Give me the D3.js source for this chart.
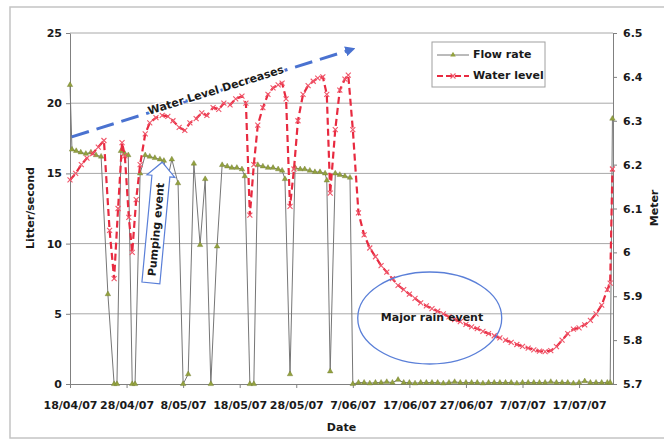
<!DOCTYPE html>
<html>
<head>
<meta charset="utf-8">
<script src="https://cdn.jsdelivr.net/npm/d3@7"></script>
<style>
  body { margin: 0; background: #fff; }
  text { font-family: "DejaVu Sans", sans-serif; font-weight: bold; font-size: 11px; fill: #1a1a1a; }
</style>
</head>
<body>
<svg id="chart" width="664" height="446"></svg>
<script>
// days counted from 18/04/07
const flowDays = [0, 0.35, 1.1, 1.9, 2.8, 3.7, 4.6, 5.5, 6.7, 7.8, 8.3, 9.0, 9.7, 10.3, 11.0, 11.5,
  12.4, 13.3, 14.1, 15.0, 15.9, 16.6, 17.2, 18.0, 19.1, 20.0, 20.9, 21.9, 23.0, 23.9, 24.9, 26.0,
  26.9, 27.8, 28.6, 29.5, 30.4, 30.9, 31.8, 32.5, 33.2, 34.1, 35.0, 35.9, 36.8, 37.5, 38.0, 38.9,
  39.8, 40.7, 41.5, 42.4, 43.3, 44.2, 45.1, 45.4, 46.0, 46.9, 47.7, 48.6, 49.5, 50.0,
  51, 52, 53, 54, 55, 56, 57, 58, 59, 60, 61, 62, 63, 64, 65, 66, 67, 68, 69, 70,
  71, 72, 73, 74, 75, 76, 77, 78, 79, 80, 81, 82, 83, 84, 85, 86, 87, 88, 89, 90,
  91, 92, 93, 94, 95, 95.5, 95.9];
const flowRate = [21.3, 16.7, 16.6, 16.5, 16.4, 16.5, 16.3, 16.2, 6.4, 0, 0, 16.6, 16.4, 16.3, 0, 0,
  15.0, 16.3, 16.2, 16.1, 16.0, 15.9, 14.5, 16.0, 14.3, 0, 0.7, 15.7, 9.9, 14.6, 0, 9.8,
  15.6, 15.5, 15.4, 15.4, 15.3, 14.8, 0, 0, 15.6, 15.5, 15.4, 15.4, 15.3, 15.2, 14.6, 0.7,
  15.4, 15.3, 15.3, 15.2, 15.1, 15.1, 15.0, 14.5, 0.9, 15.0, 14.9, 14.8, 14.7, 0,
  0.1, 0.1, 0.05, 0.1, 0.1, 0.15, 0.1, 0.3, 0.1, 0.1, 0.05, 0.1, 0.1, 0.1, 0.1, 0.05, 0.1, 0.15, 0.1, 0.1,
  0.1, 0.1, 0.05, 0.1, 0.1, 0.1, 0.1, 0.1, 0.05, 0.1, 0.1, 0.1, 0.1, 0.1, 0.15, 0.1, 0.1, 0.1, 0.05, 0.1,
  0.2, 0.1, 0.1, 0.1, 0.1, 0.1, 18.9];

const levelDays = [0, 1, 2, 3, 4, 5, 6, 7, 7.8, 8.5, 9.2, 9.7, 10.4, 11.0, 11.7, 12.4, 13.3, 14.1,
  15.2, 16.3, 17.3, 18.2, 19.3, 20.3, 21.2, 22.3, 23.3, 24.2, 25.3, 26.3, 27.2, 28.3, 29.3, 30.4,
  31.1, 31.8, 32.5, 33.2, 34.1, 35.0, 35.9, 36.8, 37.5, 38.2, 38.9, 39.6, 40.3, 41.2, 42.1, 43.0,
  43.8, 44.7, 45.4, 46.0, 46.9, 47.7, 48.6, 49.2, 50.0,
  51, 52, 53, 54, 55, 56, 57, 58, 59, 60, 61, 62, 63, 64, 65, 66, 67, 68, 69, 70,
  71, 72, 73, 74, 75, 76, 77, 78, 79, 80, 81, 82, 83, 84, 85, 86, 87, 88, 89, 90,
  91, 92, 93, 94, 95, 95.5, 95.9];
const waterLevel = [6.165, 6.18, 6.2, 6.215, 6.225, 6.24, 6.255, 6.05, 5.94, 6.1, 6.25, 6.22, 6.08, 6.0,
  6.12, 6.2, 6.27, 6.295, 6.307, 6.312, 6.31, 6.3, 6.285, 6.278, 6.295, 6.305, 6.318, 6.312, 6.33,
  6.326, 6.34, 6.336, 6.35, 6.356, 6.34, 6.085, 6.2, 6.29, 6.33, 6.36, 6.375, 6.382, 6.386, 6.35,
  6.105, 6.19, 6.3, 6.36, 6.38, 6.39, 6.397, 6.4, 6.36, 6.135, 6.28, 6.37, 6.395, 6.404, 6.28,
  6.09, 6.04, 6.01, 5.99, 5.97, 5.955, 5.94, 5.925, 5.915, 5.905, 5.895, 5.885, 5.878, 5.872, 5.866,
  5.86, 5.853, 5.847, 5.842, 5.836, 5.83, 5.826, 5.82, 5.815, 5.81, 5.805, 5.8, 5.795, 5.79, 5.786,
  5.782, 5.778, 5.775, 5.774, 5.776, 5.785, 5.8, 5.815, 5.825, 5.828, 5.835, 5.845, 5.86, 5.88,
  5.915, 5.93, 6.19];

const dateTicks = [0, 10, 20, 30, 40, 50, 60, 70, 80, 90];
const flowTicks = [0, 5, 10, 15, 20, 25];
const levelTicks = [5.7, 5.8, 5.9, 6.0, 6.1, 6.2, 6.3, 6.4, 6.5];

const start = Date.UTC(2007, 3, 18);
const toDate = d => new Date(start + d * 864e5);

const svg = d3.select("#chart");
svg.append("rect").attr("width", 664).attr("height", 446).attr("fill", "#fff");
// outer chart frame
svg.append("rect").attr("x", 10).attr("y", 7).attr("width", 700).attr("height", 431)
   .attr("fill", "none").attr("stroke", "#c4c4c4").attr("stroke-width", 1.5);

const pLeft = 70, pRight = 613, pTop = 33, pBottom = 384;
const x = d3.scaleUtc().domain([toDate(0), toDate(96)]).range([pLeft, pRight]);
const yL = d3.scaleLinear().domain([0, 25]).range([pBottom, pTop]);
const yR = d3.scaleLinear().domain([5.7, 6.5]).range([pBottom, pTop]);

// gridlines
svg.append("g").selectAll("line").data(flowTicks.slice(1)).join("line")
   .attr("x1", pLeft).attr("x2", pRight).attr("y1", d => yL(d)).attr("y2", d => yL(d))
   .attr("stroke", "#a8a8a8").attr("stroke-width", 1);

function styleAxis(g){
    g.selectAll("path,line").attr("stroke", "#808080");
    g.selectAll("text").attr("fill", "#1a1a1a");
}

svg.append("g").attr("transform", `translate(0,${pBottom})`)
   .call(d3.axisBottom(x).tickValues(dateTicks.map(toDate))
         .tickFormat(d3.utcFormat("%-d/%m/%y")).tickSize(4).tickSizeOuter(0).tickPadding(13))
   .call(styleAxis);
svg.append("g").attr("transform", `translate(${pLeft},0)`)
   .call(d3.axisLeft(yL).tickValues(flowTicks).tickSize(4).tickSizeOuter(0).tickPadding(4))
   .call(styleAxis);
svg.append("g").attr("transform", `translate(${pRight},0)`)
   .call(d3.axisRight(yR).tickValues(levelTicks).tickFormat(d => String(+d.toFixed(1)))
         .tickSize(4).tickSizeOuter(0).tickPadding(6))
   .call(styleAxis);

// axis titles
svg.append("text").attr("transform", "translate(31,208) rotate(-90)")
   .attr("text-anchor", "middle").attr("dominant-baseline", "middle").text("Litter/second");
svg.append("text").attr("transform", "translate(655,208) rotate(-90)")
   .attr("text-anchor", "middle").attr("dominant-baseline", "middle").text("Meter");
svg.append("text").attr("x", (pLeft + pRight) / 2).attr("y", 431)
   .attr("text-anchor", "middle").text("Date");

// flow rate series
const flow = flowDays.map((d, i) => [toDate(d), flowRate[i]]);
svg.append("path").datum(flow)
   .attr("d", d3.line().x(d => x(d[0])).y(d => yL(d[1])))
   .attr("fill", "none").attr("stroke", "#767676").attr("stroke-width", 1);
const tri = d3.symbol(d3.symbolTriangle, 13)();
svg.append("g").selectAll("path").data(flow).join("path")
   .attr("transform", d => `translate(${x(d[0])},${yL(d[1])})`)
   .attr("d", tri).attr("fill", "#93a23e").attr("stroke", "#6f7a30").attr("stroke-width", 0.4);

// water level series
const level = levelDays.map((d, i) => [toDate(d), waterLevel[i]]);
svg.append("path").datum(level)
   .attr("d", d3.line().x(d => x(d[0])).y(d => yR(d[1])))
   .attr("fill", "none").attr("stroke", "#e82a40").attr("stroke-width", 2.2)
   .attr("stroke-dasharray", "7,4");
const cross = "M-2.5,-2.5L2.5,2.5M-2.5,2.5L2.5,-2.5";
svg.append("g").selectAll("path").data(level).join("path")
   .attr("transform", d => `translate(${x(d[0])},${yR(d[1])})`)
   .attr("d", cross).attr("fill", "none").attr("stroke", "#f0566a").attr("stroke-width", 1.1);

// legend
const lg = svg.append("g");
lg.append("rect").attr("x", 432).attr("y", 42).attr("width", 113).attr("height", 45)
  .attr("fill", "#fff").attr("stroke", "#a0a0a0");
lg.append("line").attr("x1", 437).attr("x2", 469).attr("y1", 55).attr("y2", 55)
  .attr("stroke", "#767676");
lg.append("path").attr("transform", "translate(453,55)").attr("d", tri).attr("fill", "#93a23e");
lg.append("text").attr("x", 473).attr("y", 55).attr("dominant-baseline", "middle").text("Flow rate");
lg.append("line").attr("x1", 437).attr("x2", 469).attr("y1", 76).attr("y2", 76)
  .attr("stroke", "#e82a40").attr("stroke-width", 2).attr("stroke-dasharray", "6,3");
lg.append("path").attr("transform", "translate(453,76)").attr("d", cross)
  .attr("fill", "none").attr("stroke", "#f0566a").attr("stroke-width", 1.1);
lg.append("text").attr("x", 473).attr("y", 76).attr("dominant-baseline", "middle").text("Water level");

// annotation: water level trend arrow
const defs = svg.append("defs");
defs.append("marker").attr("id", "head").attr("viewBox", "0 0 10 10")
    .attr("refX", 5).attr("refY", 5).attr("markerWidth", 3.4).attr("markerHeight", 3.4)
    .attr("orient", "auto")
    .append("path").attr("d", "M0,0L10,5L0,10z").attr("fill", "#4a72d0");
const a0 = [x(toDate(0.3)), yL(17.6)], a1 = [x(toDate(49.6)), yL(23.8)];
svg.append("line").attr("x1", a0[0]).attr("y1", a0[1]).attr("x2", a1[0]).attr("y2", a1[1])
   .attr("stroke", "#4a72d0").attr("stroke-width", 3).attr("stroke-dasharray", "18,8")
   .attr("marker-end", "url(#head)");
const ang = Math.atan2(a1[1] - a0[1], a1[0] - a0[0]) * 180 / Math.PI;
const tx = 216, ty = a0[1] + (tx - a0[0]) * (a1[1] - a0[1]) / (a1[0] - a0[0]);
svg.append("text").attr("transform", `translate(${tx},${ty - 1}) rotate(${ang})`)
   .attr("text-anchor", "middle").attr("dominant-baseline", "middle")
   .attr("stroke", "#fff").attr("stroke-width", 2.5).attr("paint-order", "stroke")
   .text("Water Level Decreases");

// annotation: pumping event block arrow
const pb = [x(toDate(14.3)), yL(7.2)], pt = [x(toDate(16.3)), yL(15.8)];
const plen = Math.hypot(pt[0] - pb[0], pt[1] - pb[1]);
const pang = Math.atan2(pt[0] - pb[0], pb[1] - pt[1]) * 180 / Math.PI;
const hl = 14, bw = 9, hw = 14;
const pg = svg.append("g").attr("transform", `translate(${pb[0]},${pb[1]}) rotate(${pang})`);
pg.append("path")
  .attr("d", `M${-bw},0L${-bw},${-(plen - hl)}L${-hw},${-(plen - hl)}L0,${-plen}L${hw},${-(plen - hl)}L${bw},${-(plen - hl)}L${bw},0Z`)
  .attr("fill", "#fff").attr("stroke", "#5a7fd8").attr("stroke-width", 1.2);
pg.append("text").attr("transform", `translate(1,${-(plen - hl) / 2}) rotate(-90)`)
  .attr("text-anchor", "middle").attr("dominant-baseline", "middle").text("Pumping event");

// annotation: rain event ellipse
svg.append("ellipse").attr("cx", x(toDate(63.6))).attr("cy", yL(4.7)).attr("rx", 72).attr("ry", 46)
   .attr("fill", "none").attr("stroke", "#5a7fd8").attr("stroke-width", 1.3);
svg.append("text").attr("x", x(toDate(64))).attr("y", yL(4.7))
   .attr("text-anchor", "middle").attr("dominant-baseline", "middle").text("Major rain event");
</script>
</body>
</html>
